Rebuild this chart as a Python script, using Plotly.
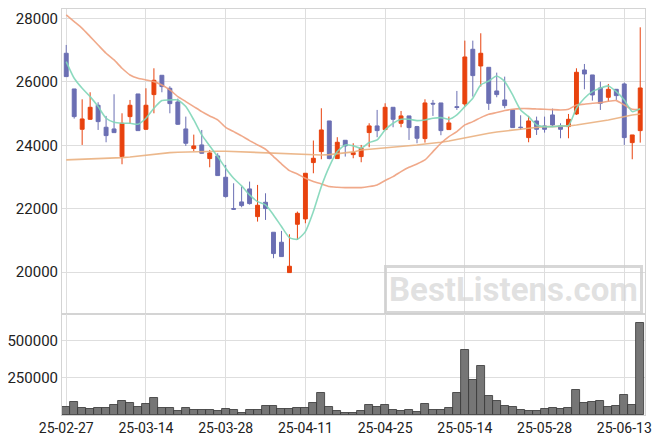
import plotly.graph_objects as go
from plotly.subplots import make_subplots

dates = ["2025-02-27","2025-02-28","2025-03-04","2025-03-05","2025-03-06","2025-03-07","2025-03-10","2025-03-11","2025-03-12","2025-03-13",
         "2025-03-14","2025-03-17","2025-03-18","2025-03-19","2025-03-20","2025-03-21","2025-03-24","2025-03-25","2025-03-26","2025-03-27",
         "2025-03-28","2025-03-31","2025-04-01","2025-04-02","2025-04-03","2025-04-04","2025-04-07","2025-04-08","2025-04-09","2025-04-10",
         "2025-04-11","2025-04-14","2025-04-15","2025-04-16","2025-04-17","2025-04-18","2025-04-21","2025-04-22","2025-04-23","2025-04-24",
         "2025-04-25","2025-04-28","2025-04-29","2025-04-30","2025-05-02","2025-05-07","2025-05-08","2025-05-09","2025-05-12","2025-05-13",
         "2025-05-14","2025-05-15","2025-05-16","2025-05-19","2025-05-20","2025-05-21","2025-05-22","2025-05-23","2025-05-26","2025-05-27",
         "2025-05-28","2025-05-29","2025-05-30","2025-06-02","2025-06-04","2025-06-05","2025-06-09","2025-06-10","2025-06-11","2025-06-12",
         "2025-06-13","2025-06-16","2025-06-17"]

open_ = [26898,25774,24503,24818,25260,24567,24514,23642,24902,25616,
         24503,25596,26205,25795,25364,24514,23896,24010,23580,23664,
         22992,22005,22214,22624,21752,22203,21259,20944,19988,21511,
         21679,23454,23800,24766,23580,24157,23705,23643,24399,24609,
         24493,25196,24692,24924,24588,24210,25322,25333,24493,25217,
         25301,27024,26498,26456,25711,25427,25113,24570,24241,24766,
         24608,24955,24608,24587,24986,26372,26215,25805,25511,25763,
         25931,24083,24461]
high = [27160,25774,25448,25669,25354,24924,25606,25007,25427,25616,
        25795,26425,26205,25858,25470,24902,24335,24482,23852,23748,
        23380,22802,22697,22855,22750,22487,21259,21301,21196,21910,
        23117,24149,25165,24766,24254,24160,24063,24010,24693,25113,
        25322,25196,25080,24924,24610,25448,25427,25333,24902,25711,
        27296,27296,27528,26456,26288,26162,25113,24945,24924,24902,
        24902,25155,24692,24986,26425,26561,26215,26005,25931,25770,
        25973,24325,27716]
low = [26150,24840,24010,24800,24482,24094,24398,23401,24671,24461,
       24480,25007,25669,25007,24640,23979,23811,23740,23306,23040,
       22350,21963,22046,22130,21595,21647,20440,20490,19988,21018,
       21542,23117,23559,23560,23580,23643,23590,23464,23937,24254,
       24493,24567,24567,24167,24063,24083,24924,24316,24490,25113,
       25217,25532,25848,25113,25512,25165,24556,24482,24094,24325,
       24398,24587,24220,24220,24955,25763,25406,25112,25375,25427,
       24010,23559,24083]
close = [26163,24902,24829,25196,24745,24304,24398,24692,25260,24461,
         25260,26047,25848,25312,24661,24063,23979,23748,23758,23044,
         22383,21985,22099,22162,22110,22005,20587,20492,20188,21857,
         23117,23590,24482,23580,24094,23979,23768,23905,24609,24461,
         25196,24818,24924,24556,24220,25333,25300,24461,24703,25190,
         26782,26194,26898,25322,25596,25249,24556,24556,24766,24503,
         24503,24640,24503,24818,26299,26246,25585,25322,25763,25564,
         24241,24325,25805]
volume = [51800,85600,45000,38300,45000,45000,65300,92300,78800,51800,
          72100,112600,45000,45000,24800,45000,31500,31500,31500,24800,
          38300,31500,15800,31500,31500,58600,58600,38300,38300,45000,
          45000,78800,146400,56300,24800,15800,15800,24800,65300,51800,
          65300,31500,24800,31500,18000,72100,31500,31500,45000,146400,
          436900,234200,328800,126100,92300,58600,51800,31500,24800,24800,
          38300,45000,38300,45000,166600,78800,85600,92300,51800,58600,
          132900,65300,619300]
ma5 = [26635,26110,25795,25533,25218,24850,24724,24693,24693,24661,
       24850,25165,25407,25428,25428,25218,24798,24325,23979,23643,
       23275,22960,22719,22435,22225,22120,21805,21438,21091,21039,
       21280,21910,22698,23328,23800,24010,23980,23905,24084,24168,
       24483,24693,24819,24819,24777,24798,24850,24871,24819,24955,
       25218,25480,25900,26026,26183,26005,25585,25113,24903,24640,
       24588,24588,24609,24620,25165,25480,25690,25795,25869,25690,
       25428,25060,25155]
ma20 = [28105,27895,27685,27423,27160,26898,26688,26425,26215,26110,
        26058,26005,25900,25743,25533,25375,25218,25060,24924,24798,
        24566,24430,24294,24147,24010,23874,23643,23412,23202,23097,
        22960,22855,22782,22698,22677,22666,22666,22666,22698,22750,
        22887,23012,23170,23307,23412,23538,23800,24063,24273,24430,
        24640,24745,24871,24976,25029,25092,25134,25155,25155,25144,
        25134,25123,25113,25134,25270,25291,25323,25344,25386,25407,
        25270,25134,25134]
ma60 = [23538,23548,23548,23558,23569,23580,23590,23611,23632,23664,
        23695,23727,23748,23769,23779,23790,23800,23800,23811,23811,
        23811,23800,23790,23779,23769,23758,23748,23737,23727,23716,
        23695,23695,23695,23706,23727,23748,23790,23853,23874,23895,
        23905,23937,23958,23989,24010,24042,24063,24094,24136,24189,
        24241,24273,24325,24378,24420,24441,24483,24504,24535,24567,
        24588,24588,24588,24609,24640,24672,24714,24756,24798,24850,
        24924,24955,24987]

tick_vals = ["2025-02-27","2025-03-14","2025-03-28","2025-04-11","2025-04-25","2025-05-14","2025-05-28","2025-06-13"]
tick_text = ["25-02-27","25-03-14","25-03-28","25-04-11","25-04-25","25-05-14","25-05-28","25-06-13"]
price_ticks = [20000, 22000, 24000, 26000, 28000]
vol_ticks = [250000, 500000]

UP = "#e8420e"
DOWN = "#6b6fb3"
GRID = "#dedede"
FRAME = "#d4d4d4"

fig = make_subplots(rows=2, cols=1, shared_xaxes=True, vertical_spacing=0,
                    row_heights=[0.751, 0.249])

fig.add_trace(go.Scatter(x=dates, y=ma60, mode="lines",
                         line=dict(color="rgba(234,176,128,0.9)", width=1.6),
                         hoverinfo="skip", showlegend=False), row=1, col=1)
fig.add_trace(go.Scatter(x=dates, y=ma20, mode="lines",
                         line=dict(color="rgba(238,160,125,0.9)", width=1.6, shape="spline", smoothing=0.5),
                         hoverinfo="skip", showlegend=False), row=1, col=1)
fig.add_trace(go.Scatter(x=dates, y=ma5, mode="lines",
                         line=dict(color="rgba(128,214,184,0.9)", width=1.6, shape="spline", smoothing=0.6),
                         hoverinfo="skip", showlegend=False), row=1, col=1)
fig.add_trace(go.Candlestick(x=dates, open=open_, high=high, low=low, close=close,
                             increasing=dict(line=dict(color=UP, width=1), fillcolor=UP),
                             decreasing=dict(line=dict(color=DOWN, width=1), fillcolor=DOWN),
                             whiskerwidth=0, showlegend=False), row=1, col=1)
fig.add_trace(go.Bar(x=dates, y=volume, marker=dict(color="#767676", line=dict(color="#333333", width=0.8)),
                     width=1.0, showlegend=False), row=2, col=1)

axis_font = dict(family="Roboto, sans-serif", size=15, color="#222222")
fig.update_xaxes(type="category", range=[-0.53, 72.6], tickvals=tick_vals, ticktext=tick_text,
                 showgrid=True, gridcolor=GRID, gridwidth=1, showline=True, linecolor=FRAME, mirror=True,
                 ticks="", rangeslider_visible=False, tickfont=dict(family="Roboto, sans-serif", size=14, color="#222222"),
                 zeroline=False, automargin=False)
fig.update_xaxes(showticklabels=False, row=1, col=1)
fig.update_yaxes(range=[18686, 28293], tickvals=price_ticks, tickformat="d", showgrid=True, gridcolor=GRID,
                 showline=True, linecolor=FRAME, mirror=True, ticks="", tickfont=axis_font,
                 zeroline=False, automargin=False, row=1, col=1)
fig.update_yaxes(range=[0, 682400], tickvals=vol_ticks, tickformat="d", showgrid=True, gridcolor=GRID,
                 showline=True, linecolor=FRAME, mirror=True, ticks="", tickfont=axis_font,
                 zeroline=False, automargin=False, row=2, col=1)

fig.add_annotation(xref="paper", yref="paper", x=0.774, y=0.308, xanchor="center", yanchor="middle",
                   text="<b>BestListens.com</b>",
                   showarrow=False, font=dict(family="Roboto, sans-serif", size=33, color="rgba(215,215,215,0.75)"),
                   bordercolor="rgba(205,205,205,0.8)", borderwidth=3, borderpad=2)

# page body keeps its default 8px margin, so the figure is sized/offset to land on the same pixels
fig.update_layout(width=655, height=436, margin=dict(l=54, r=18, t=1, b=29),
                  paper_bgcolor="white", plot_bgcolor="white", bargap=0,
                  xaxis_rangeslider_visible=False, showlegend=False)

fig.write_html("out.html")
